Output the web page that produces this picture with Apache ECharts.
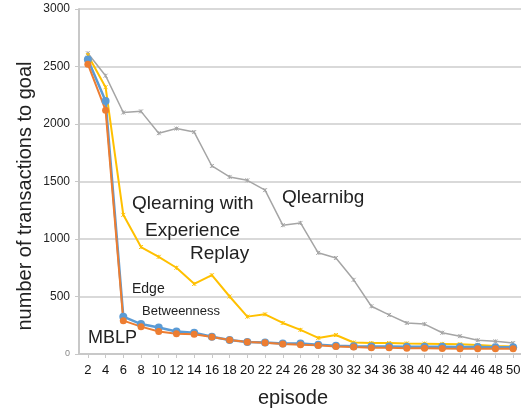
<!DOCTYPE html>
<html>
<head>
<meta charset="utf-8">
<script src="https://cdn.jsdelivr.net/npm/echarts@6/dist/echarts.min.js"></script>
<style>
  html, body { margin: 0; padding: 0; background: #fff; }
  #chart { width: 521px; height: 412px; }
</style>
</head>
<body>
<div id="chart"></div>
<script>
const episodes = ["2", "4", "6", "8", "10", "12", "14", "16", "18", "20", "22", "24", "26",
  "28", "30", "32", "34", "36", "38", "40", "42", "44", "46", "48", "50"];
const qlearning = [2615, 2420, 2100, 2110, 1920, 1960, 1930, 1635, 1540, 1510, 1425, 1120, 1140,
  880, 835, 645, 415, 340, 270, 260, 185, 155, 120, 110, 95];
const replay = [2600, 2320, 1210, 930, 845, 750, 610, 685, 500, 325, 345, 270, 210,
  140, 165, 100, 95, 95, 92, 90, 88, 85, 78, 70, 65];
const edgeBetweenness = [2560, 2200, 325, 260, 230, 195, 185, 150, 122, 104, 100, 92, 92,
  80, 72, 68, 66, 65, 63, 62, 62, 60, 60, 58, 58];
const mblp = [2520, 2120, 290, 238, 195, 176, 172, 148, 122, 104, 98, 88, 80,
  75, 66, 60, 55, 55, 50, 50, 47, 46, 45, 45, 45];
const yTicks = [0, 500, 1000, 1500, 2000, 2500, 3000];

const crossPath = "path://M0,0L10,10M10,0L0,10M5,0L5,10";
const font = "Liberation Sans, Arial, sans-serif";

// free text labels placed beside the lines
function note(text, left, cy, size) {
  return {
    type: "text", left: left, top: Math.round(cy - size * 0.6), z: 100,
    style: { text: text, fontSize: size, fill: "#222", fontFamily: font }
  };
}

const chart = echarts.init(document.getElementById("chart"));
chart.setOption({
  animation: false,
  grid: { left: 79, right: -1, top: 9, bottom: 58, outerBoundsMode: "none", containLabel: false },
  textStyle: { fontFamily: font },
  xAxis: {
    type: "category",
    data: episodes,
    boundaryGap: true,
    axisLine: { lineStyle: { color: "#c8c8c8", width: 2 } },
    axisTick: { show: true, alignWithLabel: true, length: 4, lineStyle: { color: "#c8c8c8" } },
    axisLabel: { fontSize: 13, color: "#111", margin: 10, interval: 0 },
    splitLine: { show: false }
  },
  yAxis: {
    type: "value",
    min: yTicks[0],
    max: yTicks[yTicks.length - 1],
    interval: 500,
    axisLine: { show: true, lineStyle: { color: "#c8c8c8", width: 2 } },
    axisTick: { show: true, length: 4, lineStyle: { color: "#c8c8c8" } },
    axisLabel: {
      color: "#222", margin: 9, fontSize: 12,
      formatter: v => (v === 0 ? "{z|0}" : String(v)),
      rich: { z: { fontSize: 9, color: "#888" } }
    },
    splitLine: { lineStyle: { color: "#d9d9d9", width: 2 } }
  },
  series: [
    {
      name: "Qlearnibg", type: "line", data: qlearning,
      lineStyle: { color: "#a5a5a5", width: 1.5 },
      itemStyle: { color: "#a5a5a5", borderColor: "#a5a5a5" },
      symbol: crossPath, symbolSize: 4
    },
    {
      name: "Qlearning with Experience Replay", type: "line", data: replay,
      lineStyle: { color: "#ffc000", width: 2 },
      itemStyle: { color: "#ffc000", borderColor: "#ffc000" },
      symbol: crossPath, symbolSize: 4
    },
    {
      name: "Edge Betweenness", type: "line", data: edgeBetweenness,
      lineStyle: { color: "#5b9bd5", width: 2.5 },
      itemStyle: { color: "#5b9bd5", borderWidth: 0 },
      symbol: "circle", symbolSize: 8
    },
    {
      name: "MBLP", type: "line", data: mblp,
      lineStyle: { color: "#ed7d31", width: 2 },
      itemStyle: { color: "#ed7d31", borderWidth: 0 },
      symbol: "circle", symbolSize: 7
    }
  ],
  graphic: [
    // axis titles
    {
      type: "text", x: 25, y: 196, rotation: Math.PI / 2,
      style: { text: "number of transactions to goal", fontSize: 20, fill: "#222", fontFamily: font,
        align: "center", verticalAlign: "middle" }
    },
    {
      type: "text", x: 293, y: 398,
      style: { text: "episode", fontSize: 20, fill: "#222", fontFamily: font,
        align: "center", verticalAlign: "middle" }
    },
    note("Qlearnibg", 282, 199, 19),
    note("Qlearning with", 132, 205, 19),
    note("Experience", 145, 232, 19),
    note("Replay", 190, 255, 19),
    note("Edge", 132, 290, 14),
    note("Betweenness", 142, 313, 13),
    note("MBLP", 88, 340, 18)
  ]
});
</script>
</body>
</html>
